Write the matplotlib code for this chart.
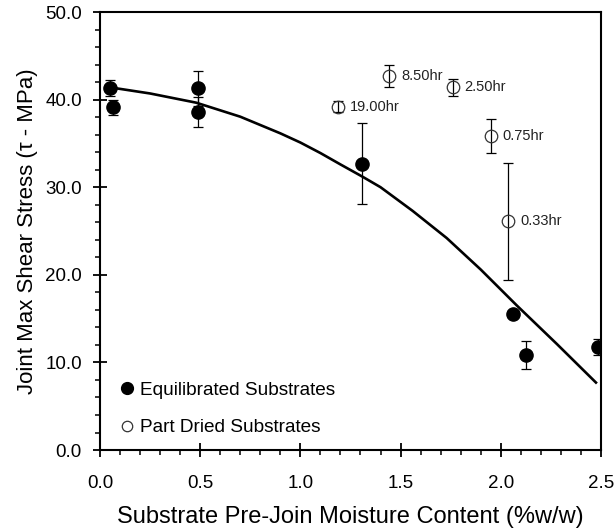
import matplotlib
matplotlib.use("Agg")
import matplotlib.pyplot as plt
from matplotlib.lines import Line2D
from matplotlib.ticker import MultipleLocator, FormatStrFormatter

plt.rcParams['font.family'] = ['Liberation Sans', 'DejaVu Sans']

# Equilibrated substrates (filled)
eq_x = [0.05, 0.067, 0.487, 0.487, 1.306, 2.062, 2.126, 2.483]
eq_y = [41.3, 39.1, 41.3, 38.6, 32.7, 15.5, 10.8, 11.8]
eq_err = [0.9, 0.9, 2.0, 1.7, 4.6, 0.0, 1.6, 0.9]

# Part dried substrates (open), with drying times
pd_x = [1.186, 1.444, 1.760, 1.950, 2.037]
pd_y = [39.2, 42.7, 41.4, 35.8, 26.1]
pd_err = [0.6, 1.3, 1.0, 1.95, 6.7]
pd_labels = ["19.00hr", "8.50hr", "2.50hr", "0.75hr", "0.33hr"]

# fitted trend line
fit_x = [0.05, 0.25, 0.48, 0.70, 0.90, 1.00, 1.10, 1.20, 1.31, 1.40, 1.56,
         1.73, 1.90, 2.08, 2.28, 2.475]
fit_y = [41.4, 40.7, 39.65, 38.05, 36.15, 35.1, 33.9, 32.6, 31.2, 30.0, 27.3,
         24.2, 20.6, 16.5, 12.1, 7.7]

fig = plt.figure(figsize=(6.16, 5.31), dpi=100)
ax = fig.add_axes([0.1623, 0.1525, 0.8133, 0.8249])

ax.plot(fit_x, fit_y, color='black', lw=1.9, zorder=2)

ax.errorbar(eq_x, eq_y, yerr=eq_err, fmt='o', color='black', ms=9.5,
            ecolor='black', elinewidth=0.9, capsize=3.5, capthick=0.9,
            zorder=3)
ax.errorbar(pd_x, pd_y, yerr=pd_err, fmt='o', mfc='none', mec='#333333',
            mew=0.9, ms=9, ecolor='black', elinewidth=0.9, capsize=3.5,
            capthick=0.9, zorder=3)

for x, y, lab in zip(pd_x, pd_y, pd_labels):
    ax.annotate(lab, (x, y), xytext=(8.5, 0), textcoords='offset points',
                va='center', ha='left', fontsize=10.5, color='#222222')

ax.set_xlim(0, 2.5)
ax.set_ylim(0, 50)
ax.xaxis.set_major_locator(MultipleLocator(0.5))
ax.xaxis.set_minor_locator(MultipleLocator(0.1))
ax.yaxis.set_major_locator(MultipleLocator(10))
ax.yaxis.set_minor_locator(MultipleLocator(2))
ax.xaxis.set_major_formatter(FormatStrFormatter('%.1f'))
ax.yaxis.set_major_formatter(FormatStrFormatter('%.1f'))
ax.tick_params(which='major', direction='inout', length=10, width=1.3,
               labelsize=13.5, pad=8)
ax.tick_params(which='minor', direction='out', length=3.6, width=1.1)
ax.tick_params(axis='x', pad=13)
for s in ax.spines.values():
    s.set_linewidth(1.5)

ax.set_xlabel('Substrate Pre-Join Moisture Content (%w/w)', fontsize=17,
              labelpad=10)
ax.set_ylabel('Joint Max Shear Stress (τ - MPa)', fontsize=16, labelpad=5)

handles = [
    Line2D([], [], ls='none', marker='o', color='black', ms=8.5),
    Line2D([], [], ls='none', marker='o', mfc='none', mec='#333333',
           mew=0.9, ms=7.5),
]
ax.legend(handles, ['Equilibrated Substrates', 'Part Dried Substrates'],
          loc='lower left', bbox_to_anchor=(0.039, 0.031), frameon=False,
          fontsize=13.7, handlelength=0.8, handletextpad=0.27,
          labelspacing=1.06, borderaxespad=0, borderpad=0)

fig.savefig('out.png', dpi=100)
